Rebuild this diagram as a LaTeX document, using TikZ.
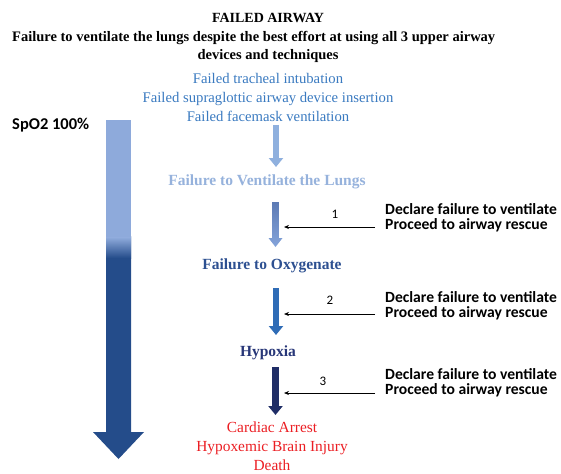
\documentclass[tikz,border=0pt]{standalone}
\usepackage{fontspec}
\setmainfont{Liberation Serif}
\newfontfamily\serfont{Liberation Serif}
\newfontfamily\calfont{Carlito}
\usetikzlibrary{arrows.meta}
\definecolor{bluetxt}{RGB}{58,122,192}
\definecolor{paleblue}{RGB}{150,178,220}
\definecolor{oxyblue}{RGB}{45,80,145}
\definecolor{hypoblue}{RGB}{40,55,120}
\definecolor{redtxt}{RGB}{235,30,35}
\definecolor{biglight}{RGB}{142,170,219}
\definecolor{bigdark}{RGB}{36,76,138}
\definecolor{arrA}{RGB}{143,176,222}
\definecolor{arrBtop}{RGB}{92,122,180}
\definecolor{arrBbot}{RGB}{132,164,218}
\definecolor{arrC}{RGB}{47,108,182}
\definecolor{arrD}{RGB}{31,45,102}
\begin{document}
\begin{tikzpicture}[x=1pt,y=-1pt,
  txt/.style={inner sep=0pt,anchor=base},
  titlefont/.style={font=\serfont\fontsize{14.5}{17}\selectfont\bfseries},
  bluefont/.style={font=\serfont\fontsize{14.7}{19}\selectfont,text=bluetxt},
  stagefont/.style={font=\serfont\fontsize{15.5}{19}\selectfont\bfseries},
  rightfont/.style={font=\calfont\fontsize{15.6}{15}\selectfont\bfseries,align=left,anchor=base west,inner sep=0pt},
  numfont/.style={font=\calfont\fontsize{13}{15}\selectfont,inner sep=0pt,anchor=base},
  thin/.style={draw=black,line width=0.7pt,-{Stealth[length=5pt,width=4pt]}},
  blockarrow/.style={line width=6.5pt,-{Triangle[width=14pt,length=9pt]}}
]
\useasboundingbox (0,0) rectangle (561,473);

% titles
\node[txt,font=\serfont\fontsize{14}{17}\selectfont\bfseries] (t1) at (268,23) {FAILED AIRWAY};
\node[txt,titlefont,anchor=base west] (t2) at (12,42) {Failure to ventilate the lungs despite the best effort at using all 3 upper airway};
\node[txt,titlefont] (t3) at (268,60) {devices and techniques};

% failed devices
\node[txt,bluefont] (b1) at (268,84) {Failed tracheal intubation};
\node[txt,bluefont] (b2) at (268,103) {Failed supraglottic airway device insertion};
\node[txt,bluefont] (b3) at (268,122) {Failed facemask ventilation};

% SpO2 and big arrow
\node[txt,anchor=base west,font=\calfont\fontsize{16.5}{18}\selectfont\bfseries] (spo) at (12,130) {SpO2 100\%};
\fill[bigdark] (106,236) -- (131,236) -- (131,432) -- (144,432) -- (118.5,459) -- (93,432) -- (106,432) -- cycle;
\fill[biglight] (106,120) rectangle (131,238);
\shade[top color=biglight,bottom color=bigdark] (106,237.5) rectangle (131,258);

% stages
\node[txt,stagefont,text=paleblue] (s1) at (267,185) {Failure to Ventilate the Lungs};
\node[txt,stagefont,text=oxyblue] (s2) at (272,269) {Failure to Oxygenate};
\node[txt,stagefont,text=hypoblue] (s3) at (268,356) {Hypoxia};
\node[txt,font=\serfont\fontsize{15.4}{19}\selectfont,text=redtxt] (s4a) at (272,432) {Cardiac Arrest};
\node[txt,font=\serfont\fontsize{15.4}{19}\selectfont,text=redtxt] (s4b) at (272,451) {Hypoxemic Brain Injury};
\node[txt,font=\serfont\fontsize{15.4}{19}\selectfont,text=redtxt] (s4c) at (272,470) {Death};

% block arrows
\coordinate (aS) at (276,125); \coordinate (aE) at (276,167);
\coordinate (cS) at (276,288); \coordinate (cE) at (276,335);
\coordinate (dS) at (275.5,367); \coordinate (dE) at (275.5,415);
\draw[blockarrow,arrA] (aS) -- (aE);
\draw[blockarrow,arrC] (cS) -- (cE);
\draw[blockarrow,arrD] (dS) -- (dE);
\coordinate (bS) at (275.5,202); \coordinate (bE) at (275.5,247);
\shade[top color=arrBtop,bottom color=arrBbot]
  (272.2,202) -- (278.8,202) -- (278.8,238) -- (282.5,238) -- (bE) -- (268.5,238) -- (272.2,238) -- cycle;

% declare boxes
\node[rightfont] (r1) at (385,229.5) {Declare failure to ventilate\\Proceed to airway rescue};
\node[rightfont] (r2) at (385,317) {Declare failure to ventilate\\Proceed to airway rescue};
\node[rightfont] (r3) at (385,394) {Declare failure to ventilate\\Proceed to airway rescue};

\coordinate (h1s) at (375,227); \coordinate (h1e) at (284,227);
\coordinate (h2s) at (375,314); \coordinate (h2e) at (284,314);
\coordinate (h3s) at (375,393); \coordinate (h3e) at (284,393);
\draw[thin] (h1s) -- (h1e);
\draw[thin] (h2s) -- (h2e);
\draw[thin] (h3s) -- (h3e);
\node[numfont] (n1) at (335,218) {1};
\node[numfont] (n2) at (330,304) {2};
\node[numfont] (n3) at (323,385) {3};
\end{tikzpicture}
\end{document}
